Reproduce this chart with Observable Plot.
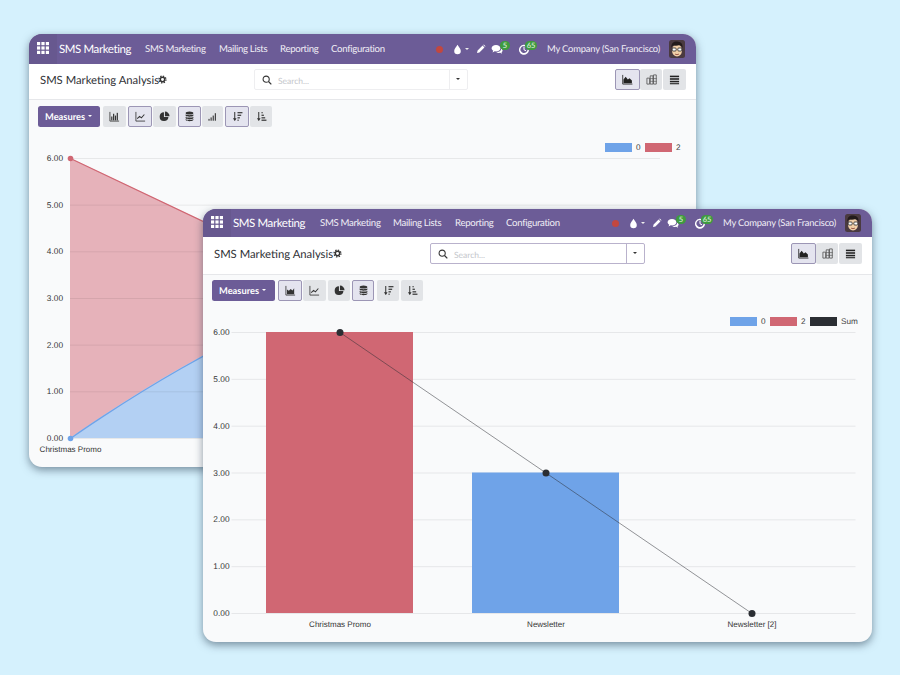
<!DOCTYPE html>
<html><head><meta charset="utf-8">
<script src="https://cdn.jsdelivr.net/npm/d3@7"></script>
<script src="https://cdn.jsdelivr.net/npm/@observablehq/plot@0.6"></script>
<style>
html,body{margin:0;padding:0;background:#d5f1fd;width:900px;height:675px;overflow:hidden;text-rendering:geometricPrecision}
#page{position:relative;width:900px;height:675px;font-family:"Lato",sans-serif}
.win{position:absolute;background:#f9fafb;border-radius:13px;box-shadow:0 3px 9px rgba(40,60,80,.55);overflow:hidden}
.abs{position:absolute}
.t{position:absolute;white-space:nowrap;transform:translateY(-50%);line-height:1}
.btn{position:absolute;box-sizing:border-box;background:#e2e4e7;border-radius:2px;display:flex;align-items:center;justify-content:center}
.btn.on{background:#e4e4ef;border:1px solid #9c96b5}
.sw{position:absolute;height:9px;width:27px}
.lg{position:absolute;font:8.2px "Liberation Sans",sans-serif;color:#444;transform:translateY(-50%);line-height:1}
</style></head><body><div id="page"></div>
<script>
const categories = ["Christmas Promo", "Newsletter", "Newsletter [2]"];
const series0 = [0, 3, 0];
const series2 = [6, 0, 0];
const sumSeries = [6, 3, 0];
const yTicks = [0, 1, 2, 3, 4, 5, 6];
const seriesNames = ["0", "2"];
const seriesColors = ["#6fa3e8", "#d06773"];
const seriesFills = ["#b3d0f3", "#e6b2ba"];
const sumColor = "#2b2e33";
const navItems = ["SMS Marketing", "Mailing Lists", "Reporting", "Configuration"];
const appName = "SMS Marketing";
const viewTitle = "SMS Marketing Analysis";
const companyName = "My Company (San Francisco)";
const searchHint = "Search...";
const measuresLabel = "Measures";
const chatBadge = "5";
const clockBadge = "65";

const PURPLE = "#6c5c97";
const ink = "#2f3136";

const P = {
  grid: `<rect x="0" y="0" width="3.2" height="3.2"/><rect x="4.4" y="0" width="3.2" height="3.2"/><rect x="8.8" y="0" width="3.2" height="3.2"/><rect x="0" y="4.4" width="3.2" height="3.2"/><rect x="4.4" y="4.4" width="3.2" height="3.2"/><rect x="8.8" y="4.4" width="3.2" height="3.2"/><rect x="0" y="8.8" width="3.2" height="3.2"/><rect x="4.4" y="8.8" width="3.2" height="3.2"/><rect x="8.8" y="8.8" width="3.2" height="3.2"/>`,
  bars: `<path d="M1 1v10h10" fill="none" stroke="currentColor" stroke-width=".9"/><rect x="2.4" y="6" width="1.3" height="4.2"/><rect x="4.4" y="3" width="1.3" height="7.2"/><rect x="6.4" y="5" width="1.3" height="5.2"/><rect x="8.4" y="2" width="1.3" height="8.2"/>`,
  barsA: `<path d="M1 1v10h10" fill="none" stroke="currentColor" stroke-width=".9"/><path d="M2.2 10.2V5l2 1.4 2-2 2 1.6 1.8-2.4v6.6z"/>`,
  line: `<path d="M1 1v10h10" fill="none" stroke="currentColor" stroke-width=".9"/><path d="M2.4 8.4l2.6-2.6 2 1.6 3.2-3.6" fill="none" stroke="currentColor" stroke-width="1.1"/>`,
  pie: `<path d="M5.4 1.4a4.8 4.8 0 1 0 4.9 5.2H5.4z"/><path d="M6.5.6v5h5a5 5 0 0 0-5-5z"/>`,
  db: `<ellipse cx="6" cy="2.2" rx="4.2" ry="1.7"/><path d="M1.8 3.6c1 1.3 7.4 1.3 8.4 0v1.7c-1 1.3-7.4 1.3-8.4 0zM1.8 6.2c1 1.3 7.4 1.3 8.4 0v1.7c-1 1.3-7.4 1.3-8.4 0zM1.8 8.7c1 1.3 7.4 1.3 8.4 0v1.2c-1 1.7-7.4 1.7-8.4 0z"/>`,
  asc: `<rect x="1.6" y="8.6" width="1.2" height="2"/><rect x="3.9" y="7" width="1.2" height="3.6"/><rect x="6.2" y="5" width="1.2" height="5.6"/><rect x="8.5" y="2.4" width="1.2" height="8.2"/>`,
  sortD: `<path d="M3 1v9" stroke="currentColor" stroke-width="1.1" fill="none"/><path d="M1 8h4l-2 3z"/><rect x="6" y="1.2" width="5.4" height="1.3"/><rect x="6" y="4" width="4" height="1.3"/><rect x="6" y="6.8" width="2.6" height="1.3"/><rect x="6" y="9.4" width="1.3" height="1.3"/>`,
  sortA: `<path d="M3 1v9" stroke="currentColor" stroke-width="1.1" fill="none"/><path d="M1 8h4l-2 3z"/><rect x="6" y="1.2" width="1.3" height="1.3"/><rect x="6" y="4" width="2.6" height="1.3"/><rect x="6" y="6.8" width="4" height="1.3"/><rect x="6" y="9.4" width="5.4" height="1.3"/>`,
  area: `<path d="M.8 1v10h10.6" fill="none" stroke="currentColor" stroke-width=".9"/><path d="M1.6 10.2V6l2.4-3 2.4 3 1.8-1.4 2.6 2.6v3z"/>`,
  pivot: `<path d="M1 4.5h3V11H1zM4.6 2h3v9h-3zM8.2 1h3v10h-3z" fill="none" stroke="currentColor" stroke-width=".9"/><path d="M4.6 5h7M4.6 8h7" stroke="currentColor" stroke-width=".7"/>`,
  list: `<rect x="1" y="1.8" width="10" height="1.7"/><rect x="1" y="4.6" width="10" height="1.7"/><rect x="1" y="7.4" width="10" height="1.7"/><rect x="1" y="10" width="10" height="1.2"/>`,
  mag: `<circle cx="5" cy="5" r="3.7" fill="none" stroke="currentColor" stroke-width="1.3"/><path d="M7.8 7.8l3.4 3.4" stroke="currentColor" stroke-width="1.5"/>`,
  gear: `<circle cx="6" cy="6" r="2.9" fill="none" stroke="currentColor" stroke-width="1.9"/><circle cx="6" cy="6" r="4.6" fill="none" stroke="currentColor" stroke-width="1.7" stroke-dasharray="1.9 1.7"/>`,
  drop: `<path d="M6 .8C7.6 3.6 9.6 5.4 9.6 7.6a3.6 3.6 0 0 1-7.2 0C2.4 5.4 4.4 3.6 6 .8z"/>`,
  pencil: `<path d="M1.2 10.8l.7-2.9 6-6 2.2 2.2-6 6zM8.6 1.2l.8-.6 2 2-.6.8z"/>`,
  chat: `<path d="M5 2c2.6 0 4.4 1.4 4.4 3.2S7.6 8.4 5 8.4c-.5 0-1 0-1.3-.1L1.6 9.6l.6-2C1.2 7 .6 6.1.6 5.2.6 3.4 2.4 2 5 2z"/><path d="M10 5.4c1 .5 1.6 1.3 1.6 2.1 0 .7-.4 1.3-1 1.8l.4 1.5-1.8-1c-1.5.3-3-.1-3.8-.9 2.8.1 5.2-1.2 4.6-3.5z"/>`,
  clock: `<path d="M9.7 3.4A5 5 0 1 0 11 6.5H9.6A3.6 3.6 0 1 1 8.6 4z"/><path d="M6 3.6v3.2l2 1" fill="none" stroke="currentColor" stroke-width="1"/>`
};

function el(parent, cls, css, html) {
  const d = document.createElement("div");
  d.className = cls || "";
  d.style.cssText = css || "";
  if (html != null) d.innerHTML = html;
  parent.appendChild(d);
  return d;
}
function ic(name, size, color) {
  return `<svg width="${size}" height="${size}" viewBox="0 0 12 12" fill="currentColor" style="color:${color};display:block">${P[name]}</svg>`;
}
function place(w, name, x, y, size, color) {
  el(w, "abs", `left:${x}px;top:${y - size / 2}px;width:${size}px;height:${size}px`, ic(name, size, color));
}
function label(w, str, x, y, size, color, extra) {
  const s = el(w, "t", `left:${x}px;top:${y + 0.8}px;font-size:${size}px;color:${color};${extra || ""}`);
  s.textContent = str;
  return s;
}
function caret(w, x, y, color, r) {
  r = r || 2.6;
  el(w, "abs", `left:${x - r}px;top:${y - r / 2}px;width:0;height:0;border-left:${r}px solid transparent;border-right:${r}px solid transparent;border-top:${r}px solid ${color}`);
}
function avatar(w, x, y) {
  el(w, "abs", `left:${x}px;top:${y}px;width:16px;height:18px`,
  `<svg width="16" height="18" viewBox="0 0 16 18" style="display:block"><rect width="16" height="18" rx="2.5" fill="#4a3a40"/><ellipse cx="8" cy="10.5" rx="5" ry="6" fill="#f1cfa8"/><path d="M2.4 8c-.6-5 2.6-6.6 5.8-6.4 3.4.2 6 2 5.2 6.6-.6-1.8-1.4-2.8-2.6-3.2-2.4.8-5.4.8-6.6.2C3.200 6 2.800 7 2.400 8z" fill="#231b1b"/><rect x="3.200" y="8" width="4" height="3" rx="1" fill="#fff" stroke="#222" stroke-width=".8"/><rect x="8.800" y="8" width="4" height="3" rx="1" fill="#fff" stroke="#222" stroke-width=".8"/><path d="M6 14c1 .8 3 .8 4 0" stroke="#93503f" stroke-width=".9" fill="none"/></svg>`);
}
function badge(w, str, x, y, bw) {
  el(w, "abs", `left:${x}px;top:${y - 4.500}px;width:${bw}px;height:9px;border-radius:5px;background:#3f9b3f;color:#e8f5e8;font-size:7.500px;line-height:9px;text-align:center`, str);
}

function buildWindow(o) {
  const W = el(document.getElementById("page"), "win", `left:${o.left}px;top:${o.top}px;width:${o.width}px;height:${o.height}px`);
  const h = o.head, r = o.width, d = o.dy;
  el(W, "abs", `left:0;top:0;width:${r}px;height:${h}px;background:${PURPLE}`);
  el(W, "abs", `left:0;top:0;width:28px;height:${h}px;background:#67588f`);
  el(W, "abs", `left:0;top:${h}px;width:${r}px;height:${66 - h}px;background:#fff;border-bottom:1px solid #e6e7ea;box-sizing:border-box`);
  const cy = h / 2;
  place(W, "grid", 8, cy - 1, 12, "#fff");
  label(W, appName, 30, cy, 11.500, "#fff", "letter-spacing:-.4px");
  navItems.forEach((t, i) => label(W, t, o.nav[i], cy, 9.600, "#f1eff6", "letter-spacing:-.3px"));
  // right side of the navbar
  el(W, "abs", `left:${r - 260}px;top:${cy - 3.500}px;width:7px;height:7px;border-radius:50%;background:#c2473f`);
  place(W, "drop", r - 244, cy, 11, "#fff");
  caret(W, r - 229, cy, "#eee", 2.200);
  place(W, "pencil", r - 220, cy, 10, "#fff");
  place(W, "chat", r - 205, cy, 12, "#fff");
  badge(W, chatBadge, r - 196, cy - 3.500, 10);
  place(W, "clock", r - 178, cy, 12, "#fff");
  badge(W, clockBadge, r - 171, cy - 3.500, 12);
  label(W, companyName, r - 149, cy, 9.400, "#f1eff6", "letter-spacing:-.17px");
  avatar(W, r - 27, cy - 9);
  // control bar
  const sy = 46 + d;
  label(W, viewTitle, 11, sy, 11.300, ink);
  place(W, "gear", o.gearX, sy - 1, 9, "#333");
  const sBorder = o.searchBorder;
  el(W, "abs", `left:${o.searchX}px;top:${sy - 11}px;width:${o.searchW}px;height:21px;box-sizing:border-box;background:#fff;border:1px solid ${sBorder};border-radius:2px`);
  el(W, "abs", `left:${o.searchX + o.searchW - 19}px;top:${sy - 10}px;width:1px;height:19px;background:${sBorder}`);
  place(W, "mag", o.searchX + 8, sy, 10, "#333");
  label(W, searchHint, o.searchX + 24, sy, 8.500, "#c4c6cb");
  caret(W, o.searchX + o.searchW - 9, sy - 1, "#333");
  // view toggles
  const tg = [["area", 81, 25, true], ["pivot", 56, 22, false], ["list", 33, 23, false]];
  tg.forEach(([n, x, bw, on], i) => {
    el(W, "btn" + (on ? " on" : ""), `left:${r - x}px;top:${sy - 11}px;width:${bw}px;height:21px`, ic(n, 11, i === 1 ? "#555" : "#222"));
  });
  // toolbar
  const ty = 72 + d;
  el(W, "abs", `left:9px;top:${ty}px;width:${o.measW}px;height:21px;background:${PURPLE};border-radius:2.500px`);
  label(W, measuresLabel, 16, ty + 10.500, 9.300, "#fff", "font-weight:700");
  caret(W, 62, ty + 10, "#fff", 2.800);
  o.tools.forEach(([n, x, bw, on]) => {
    el(W, "btn" + (on ? " on" : ""), `left:${x}px;top:${ty}px;width:${bw}px;height:21px`, ic(n, 11, "#333"));
  });
  return W;
}

function legend(W, items, y) {
  items.forEach(it => {
    el(W, "sw", `left:${it.x}px;top:${y - 4.500}px;background:${it.color}`);
    const l = el(W, "lg", `left:${it.x + 31}px;top:${y}px`);
    l.textContent = it.name;
  });
}

const axisFont = {fontFamily: "Liberation Sans, sans-serif", fontSize: "8.3px", color: "#333", background: "transparent", overflow: "visible", textRendering: "geometricPrecision"};
function mount(W, svg, top) {
  svg.style.position = "absolute";
  svg.style.left = "0px";
  svg.style.top = top + "px";
  W.appendChild(svg);
}

/* ---------- back window: stacked area chart ---------- */
const backW = buildWindow({
  left: 29, top: 34, width: 667, height: 433, head: 30, dy: 0,
  nav: [116, 190, 251, 302], gearX: 129, searchX: 225, searchW: 214, searchBorder: "#eeeef0", measW: 62,
  tools: [["bars", 74, 23, false], ["line", 99, 24, true], ["pie", 124, 23, false], ["db", 149, 23, true],
          ["asc", 173, 21, false], ["sortD", 196, 24, true], ["sortA", 221, 22, false]]
});
legend(backW, [
  {name: seriesNames[0], color: seriesColors[0], x: 576},
  {name: seriesNames[1], color: seriesColors[1], x: 616}
], 113.500);

const backRows = categories.map((c, i) => ({c, s0: series0[i], s2: series2[i], sum: sumSeries[i]}));
mount(backW, Plot.plot({
  width: 667, height: 330,
  marginLeft: 41, marginRight: 36, marginTop: 14, marginBottom: 36,
  style: axisFont,
  x: {type: "point", domain: categories, padding: 0, label: null},
  y: {domain: [0, 6], label: null, ticks: yTicks},
  marks: [
    Plot.areaY(backRows, {x: "c", y1: 0, y2: "sum", fill: seriesFills[1]}),
    Plot.areaY(backRows, {x: "c", y1: 0, y2: "s0", fill: seriesFills[0], curve: "cardinal"}),
    Plot.ruleY(yTicks, {stroke: "#000", strokeOpacity: 0.07, strokeWidth: 1}),
    Plot.lineY(backRows, {x: "c", y: "sum", stroke: seriesColors[1], strokeWidth: 1.200}),
    Plot.lineY(backRows, {x: "c", y: "s0", stroke: seriesColors[0], strokeWidth: 1.200, curve: "cardinal"}),
    Plot.dot(backRows, {x: "c", y: "sum", r: 2.800, fill: seriesColors[1]}),
    Plot.dot(backRows, {x: "c", y: "s0", r: 2.800, fill: seriesColors[0]}),
    Plot.axisY({ticks: yTicks, tickFormat: ".2f", tickSize: 0, tickPadding: 7.500, label: null, fill: "#333"}),
    Plot.axisX({tickSize: 0, tickPadding: 8, label: null, fill: "#333", lineWidth: 100, fontSize: 8})
  ]
}), 110);

/* ---------- front window: bar chart with a sum line ---------- */
const frontW = buildWindow({
  left: 203, top: 209, width: 669, height: 433, head: 28, dy: -1,
  nav: [117, 190, 252, 303], gearX: 130, searchX: 227, searchW: 215, searchBorder: "#b9b2cc", measW: 63,
  tools: [["barsA", 75, 24, true], ["line", 100, 23, false], ["pie", 125, 22, false], ["db", 149, 22, true],
          ["sortD", 174, 22, false], ["sortA", 198, 22, false]]
});
legend(frontW, [
  {name: seriesNames[0], color: seriesColors[0], x: 527},
  {name: seriesNames[1], color: seriesColors[1], x: 567},
  {name: "Sum", color: sumColor, x: 607}
], 112.500);

const barRows = categories.flatMap((c, i) => [
  {c, series: seriesNames[0], v: series0[i]},
  {c, series: seriesNames[1], v: series2[i]}
]).filter(d => d.v > 0);
const sumRows = categories.map((c, i) => ({c, v: sumSeries[i]}));
mount(frontW, Plot.plot({
  width: 669, height: 328,
  marginLeft: 32.500, marginRight: 17.500, marginTop: 20, marginBottom: 27,
  style: axisFont,
  x: {type: "band", domain: categories, paddingInner: 0.288, paddingOuter: 0.144, label: null},
  y: {domain: [0, 6], label: null, ticks: yTicks},
  color: {domain: seriesNames, range: seriesColors},
  marks: [
    Plot.ruleY(yTicks, {stroke: "#e6e7e9", strokeWidth: 1, insetLeft: -4, insetRight: -1}),
    Plot.barY(barRows, {x: "c", y: "v", fill: "series"}),
    Plot.lineY(sumRows, {x: "c", y: "v", stroke: sumColor, strokeOpacity: 0.5, strokeWidth: 1}),
    Plot.dot(sumRows, {x: "c", y: "v", r: 3.500, fill: sumColor}),
    Plot.axisY({ticks: yTicks, tickFormat: ".2f", tickSize: 0, tickPadding: 6.500, label: null, fill: "#333"}),
    Plot.axisX({tickSize: 0, tickPadding: 8, label: null, fill: "#333", lineWidth: 100, fontSize: 8})
  ]
}), 103);
</script></body></html>
